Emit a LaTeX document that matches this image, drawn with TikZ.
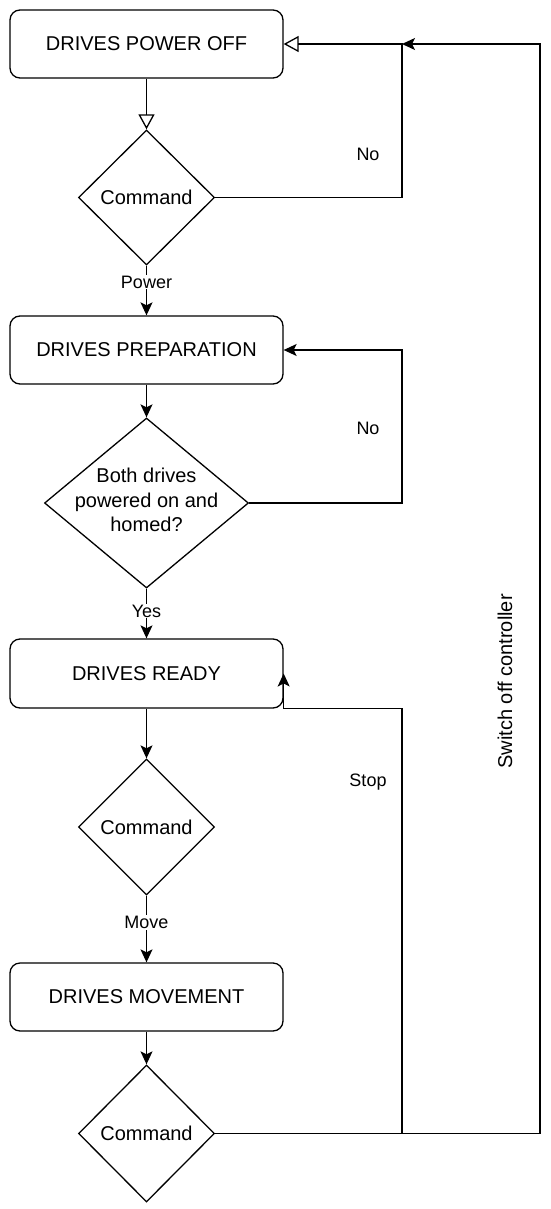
\documentclass[tikz,border=0pt]{standalone}
\usepackage{fontspec}
\setmainfont{Liberation Sans}
\usepackage{tikz}
\usetikzlibrary{arrows.meta,positioning,shapes.geometric}

\begin{document}
\begin{tikzpicture}[x=1pt,y=-1pt,>={Stealth[length=13pt,width=12pt,inset=3pt]},
  every node/.style={font=\fontsize{20}{24.5}\selectfont},
  state/.style={draw,rounded corners=10pt,minimum width=273pt,minimum height=68pt,line width=1.3pt},
  decision/.style={draw,diamond,inner sep=0pt,line width=1.3pt},
  flow/.style={->,line width=1.3pt},
  hollow/.style={-{Triangle[open,length=15pt,width=16pt]},line width=1.3pt},
  lbl/.style={font=\fontsize{18}{22}\selectfont,fill=white,inner sep=1pt}]
  \useasboundingbox (0,0) rectangle (550,1209);
  \node[state] (off) at (146.5,44) {DRIVES POWER OFF};
  \node[decision,minimum width=136pt,minimum height=135pt] (cmd1) at (146.5,197.5) {Command};
  \node[state] (prep) at (146.5,350) {DRIVES PREPARATION};
  \node[decision,minimum width=204pt,minimum height=170pt] (chk) at (146.5,503) {};
  \node[align=center] (chktxt) at (146.5,500) {Both drives\\powered on and\\homed?};
  \node[state,minimum height=69pt] (ready) at (146.5,673.5) {DRIVES READY};
  \node[decision,minimum width=136pt,minimum height=136pt] (cmd2) at (146.5,827) {Command};
  \node[state] (move) at (146.5,997) {DRIVES MOVEMENT};
  \node[decision,minimum width=136pt,minimum height=137pt] (cmd3) at (146.5,1133.5) {Command};
  \coordinate (join) at (402,44);
  \coordinate (stopc) at (402,1133.5);
  \draw[hollow] (off) -- (cmd1);
  \draw[hollow] (cmd1.east) -- (402,197.5) -- node[lbl,pos=0.28,xshift=-34pt] (no1) {No} (join) -- (off.east);
  \draw[flow] (cmd1) -- node[lbl,pos=0.33] (pwr) {Power} (prep);
  \draw[flow] (prep) -- (chk);
  \draw[flow] (chk.east) -- (402,503) -- node[lbl,pos=0.49,xshift=-34pt] (no2) {No} (402,350) -- (prep.east);
  \draw[flow] (chk) -- node[lbl,pos=0.45] (yes) {Yes} (ready);
  \draw[flow] (ready) -- (cmd2);
  \draw[flow] (cmd2) -- node[lbl,pos=0.4] (mv) {Move} (move);
  \draw[flow] (move) -- (cmd3);
  \draw[flow] (cmd3.east) -- (stopc) -- node[lbl,pos=0.826,xshift=-34pt] (stp) {Stop} (stopc |- ready.south) -| (ready.east);
  \draw[flow] (cmd3.east) -- (540,1133.5) -- node[lbl,font=\fontsize{20}{24}\selectfont,pos=0.415,xshift=-35pt,rotate=90] (sw) {Switch off controller} (540,44) -- (join);
\end{tikzpicture}
\end{document}
